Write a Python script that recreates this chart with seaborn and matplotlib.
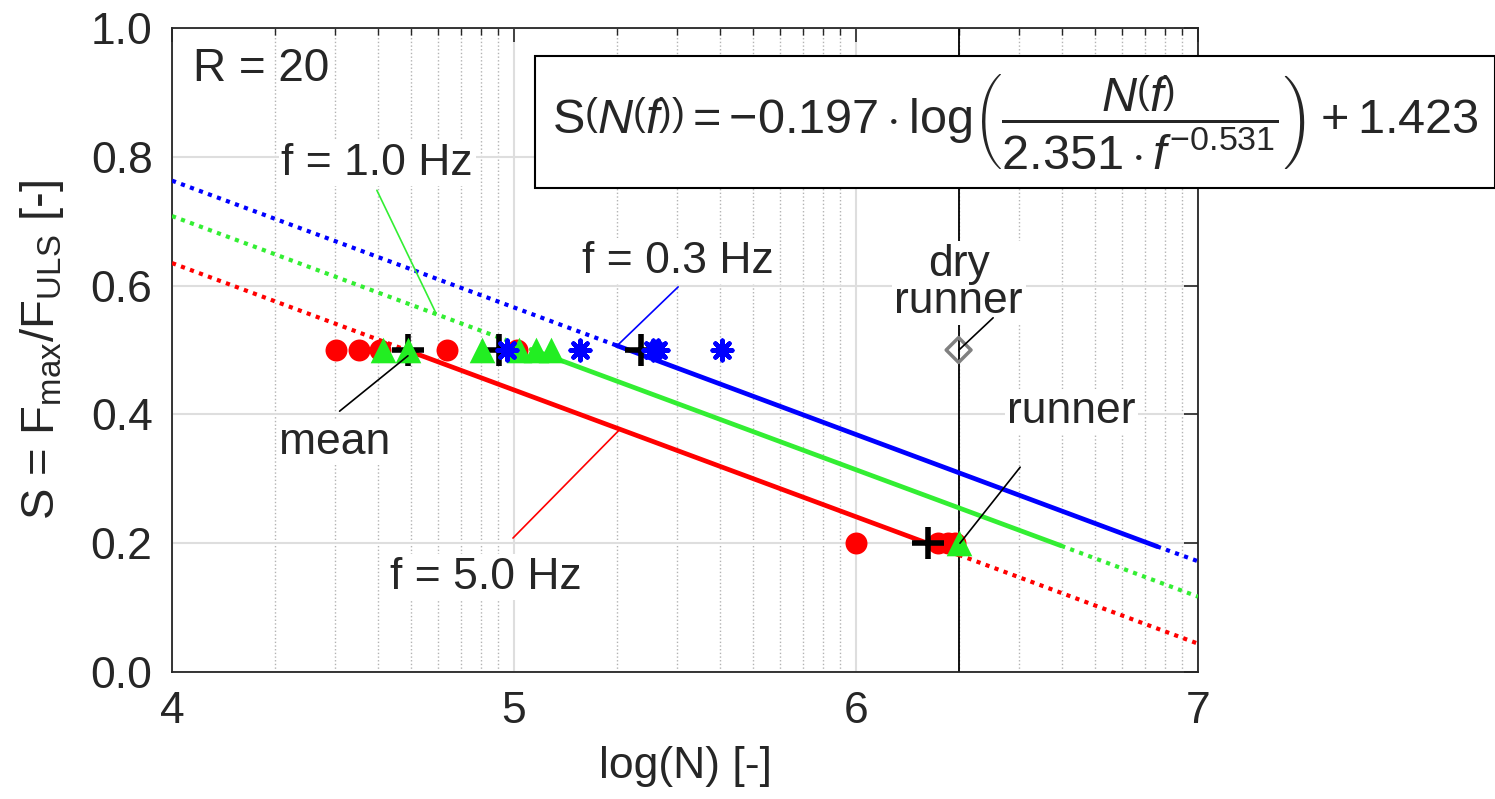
import matplotlib
matplotlib.use("Agg")
import matplotlib.pyplot as plt
import numpy as np
import pandas as pd
import seaborn as sns

# S-N Wöhler Linien, R = 20
# Versuchsdaten bei S = 0.5 und S = 0.2
rot_x = [4.48, 4.547, 4.608, 4.803, 5.008, 6.0, 6.24, 6.27, 6.29]
rot_y = [0.5, 0.5, 0.5, 0.5, 0.5, 0.2, 0.2, 0.2, 0.2]
gruen_x = [4.618, 4.691, 4.906, 5.015, 5.064, 5.108, 6.30]
gruen_y = [0.5, 0.5, 0.5, 0.5, 0.5, 0.5, 0.2]
blau_x = [4.979, 5.193, 5.406, 5.42, 5.607]
blau_y = [0.5, 0.5, 0.5, 0.5, 0.5]
mittel_x = [4.690, 4.955, 5.370, 6.21]
mittel_y = [0.5, 0.5, 0.5, 0.2]
dry_x = [6.30]
dry_y = [0.5]
runout = 6.3

# Wöhlerlinien: Stuetzpunkte [start, solid start, solid ende, ende]
linie_x = {'0.3': [4.0, 5.30, 6.88, 7.0],
           '1.0': [4.0, 5.05, 6.60, 7.0],
           '5.0': [4.0, 4.70, 6.30, 7.0]}
linie_y = {'0.3': [0.763, 0.507, 0.195, 0.172],
           '1.0': [0.708, 0.501, 0.196, 0.117],
           '5.0': [0.635, 0.497, 0.182, 0.044]}
farben = {'0.3': '#0000ff', '1.0': '#33ee33', '5.0': '#ff0000'}

sns.set_style('white')
plt.rcParams['font.family'] = ['Liberation Sans', 'DejaVu Sans']
plt.rcParams['mathtext.fontset'] = 'custom'
plt.rcParams['mathtext.rm'] = 'Liberation Sans'
plt.rcParams['mathtext.it'] = 'Liberation Sans:italic'
plt.rcParams['mathtext.bf'] = 'Liberation Sans:bold'

fig = plt.figure(figsize=(14.95, 7.99), dpi=100)
ax = fig.add_axes([172/1495, 1-672/799, (1198-172)/1495, (672-28)/799])

dk = (0.15, 0.15, 0.15)

# Linien
for f in ['0.3', '1.0', '5.0']:
    xs = linie_x[f]
    ys = linie_y[f]
    for i, stil in [(0, 'dot'), (1, 'solid'), (2, 'dot')]:
        d = pd.DataFrame({'x': xs[i:i+2], 'y': ys[i:i+2]})
        if stil == 'dot':
            sns.lineplot(data=d, x='x', y='y', ax=ax, color=farben[f], lw=3.0,
                         linestyle=(0, (1, 1.3)), dash_capstyle='butt', zorder=3)
        else:
            sns.lineplot(data=d, x='x', y='y', ax=ax, color=farben[f], lw=3.4,
                         zorder=3)

ax.axvline(runout, color='k', lw=1.3, zorder=2)

# Punkte
sns.scatterplot(x=rot_x, y=rot_y, ax=ax, marker='o', s=250, color='#ff0000',
                edgecolor='#ff0000', linewidth=0, zorder=4)
sns.scatterplot(x=mittel_x, y=mittel_y, ax=ax, marker='+', s=520, color='k',
                linewidth=4, zorder=5)
sns.scatterplot(x=gruen_x, y=gruen_y, ax=ax, marker='^', s=340, color='#22ee22',
                edgecolor='#22ee22', linewidth=0, zorder=6)
sns.scatterplot(x=blau_x, y=blau_y, ax=ax, marker=(8, 2, 0), s=200, color='#0000ff',
                linewidth=3.2, zorder=7)
sns.scatterplot(x=dry_x, y=dry_y, ax=ax, marker='D', s=160, facecolor='none',
                edgecolor='gray', linewidth=2.5, zorder=7)

ax.set_xlim(4, 7)
ax.set_ylim(0, 1)
ax.set_xticks([4, 5, 6, 7])
ax.set_yticks(np.arange(0, 1.01, 0.2))
ax.set_yticklabels(['0.0', '0.2', '0.4', '0.6', '0.8', '1.0'])
minor = [d + np.log10(k) for d in range(4, 7) for k in range(2, 10)]
ax.set_xticks(minor, minor=True)
ax.grid(True, which='major', color=(0.87, 0.87, 0.87), lw=1.5, zorder=0)
ax.grid(True, which='minor', axis='x', color=(0.7, 0.7, 0.7), lw=1.0,
        linestyle=':', zorder=0)
ax.set_axisbelow(True)
ax.tick_params(which='major', direction='in', length=10, width=1.2, color=dk,
               labelsize=32, labelcolor=dk, top=True, right=True, pad=14)
ax.tick_params(which='minor', direction='in', length=5, width=1.0, color=dk,
               top=True, right=False)
for s in ax.spines.values():
    s.set_color(dk)
    s.set_linewidth(1.3)

ax.set_xlabel('log(N) [-]', fontsize=32, color=dk, labelpad=10)
ax.set_ylabel(r'S = F$_{\mathrm{max}}$/F$_{\mathrm{ULS}}$ [-]', fontsize=34,
              color=dk, labelpad=18)

# Beschriftungen
wb = dict(facecolor='white', edgecolor='none', pad=2)
fs = 32
ax.text(4.06, 0.937, 'R = 20', fontsize=33, ha='left', va='center', zorder=8)
ax.text(4.60, 0.790, 'f = 1.0 Hz', fontsize=fs, ha='center', va='center', bbox=wb, zorder=8)
ax.text(5.48, 0.638, 'f = 0.3 Hz', fontsize=fs, ha='center', va='center', bbox=wb, zorder=8)
ax.text(4.918, 0.147, 'f = 5.0 Hz', fontsize=fs, ha='center', va='center', bbox=wb, zorder=8)
ax.text(4.476, 0.357, 'mean', fontsize=fs, ha='center', va='center', bbox=wb, zorder=8)
ax.text(6.30, 0.604, 'dry\nrunner', fontsize=fs, ha='center', va='center',
        linespacing=0.9, bbox=wb, zorder=8)
ax.text(6.63, 0.404, 'runner', fontsize=fs, ha='center', va='center', bbox=wb, zorder=8)

lp = dict(arrowstyle='-', lw=1.2, shrinkA=0, shrinkB=0)
ax.annotate('', xy=(4.772, 0.557), xytext=(4.599, 0.748),
            arrowprops=dict(lp, color='#33ee33'), zorder=8)
ax.annotate('', xy=(5.304, 0.508), xytext=(5.480, 0.598),
            arrowprops=dict(lp, color='#0000ff'), zorder=8)
ax.annotate('', xy=(5.310, 0.377), xytext=(4.997, 0.208),
            arrowprops=dict(lp, color='#ff0000'), zorder=8)
ax.annotate('', xy=(4.690, 0.491), xytext=(4.49, 0.405),
            arrowprops=dict(lp, color='k'), zorder=8)
ax.annotate('', xy=(6.301, 0.500), xytext=(6.401, 0.550),
            arrowprops=dict(lp, color='k'), zorder=8)
ax.annotate('', xy=(6.304, 0.200), xytext=(6.480, 0.318),
            arrowprops=dict(lp, color='k'), zorder=8)

# Gleichung
gl = (r'$\mathrm{S}\left(N\left(f\right)\right)=-0.197\cdot\mathrm{log}'
      r'\left(\dfrac{N\left(f\right)}{2.351\cdot f^{-0.531}}\right)+1.423$')
fig.text(1015/1495, 1-122/799, gl, fontsize=35, ha='center', va='center',
         bbox=dict(facecolor='white', edgecolor='k', lw=1.5, pad=12), zorder=10)

fig.savefig('out.png', dpi=100)
